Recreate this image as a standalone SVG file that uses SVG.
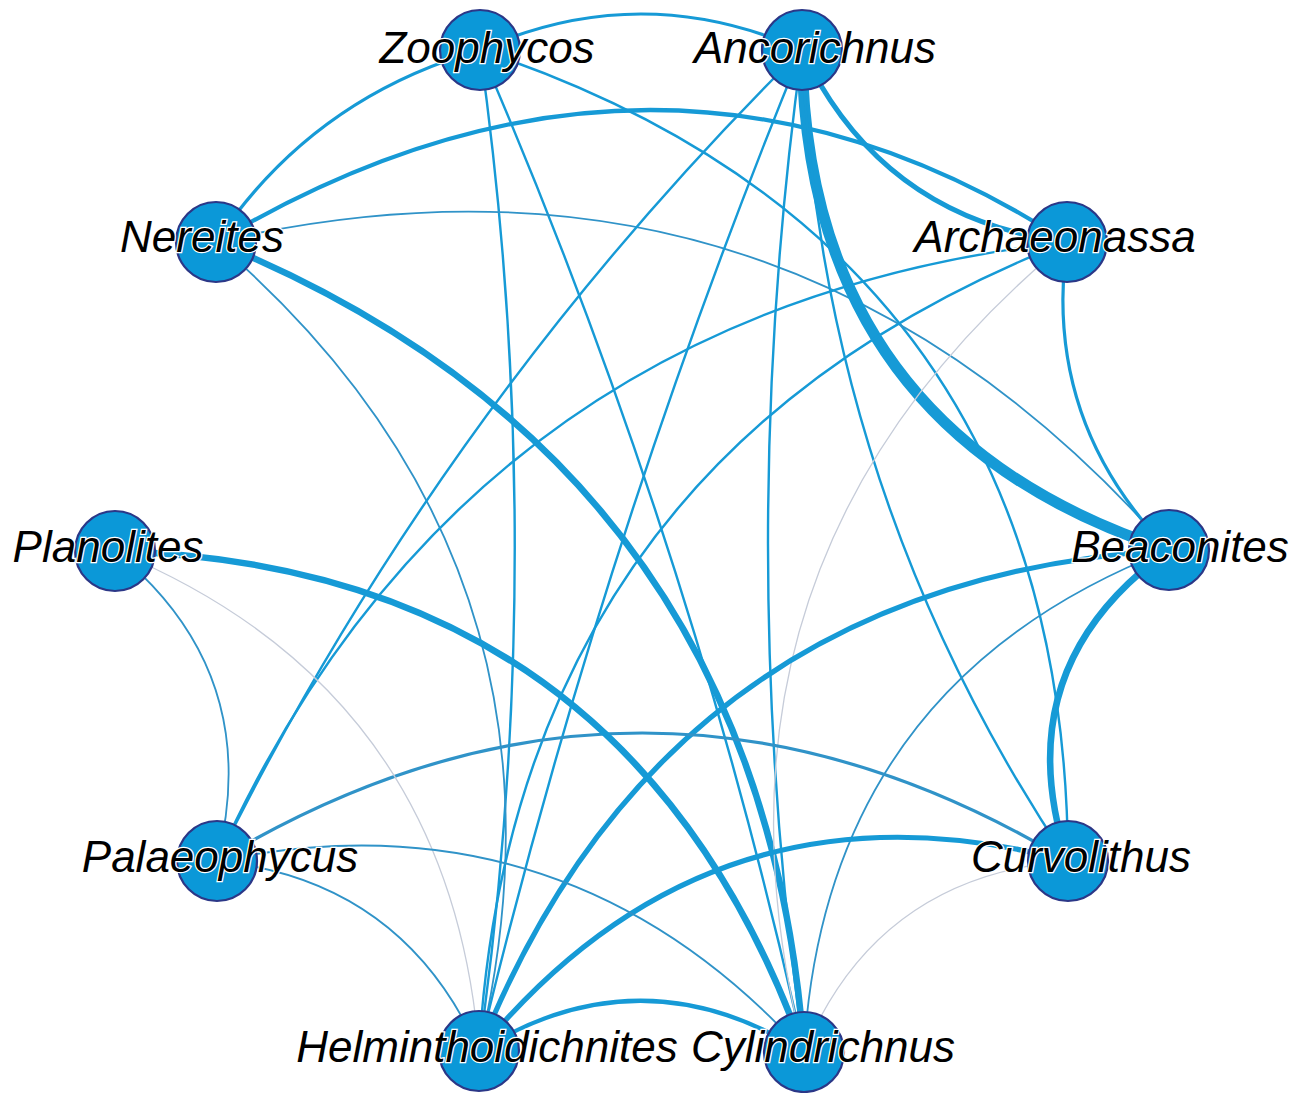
<svg xmlns="http://www.w3.org/2000/svg" width="1307" height="1093" viewBox="0 0 1307 1093">
  <style>
    .edge { fill: none; stroke: #169ad6; stroke-linecap: round; }
    .soft { stroke: #3093c8; }
    .faint { fill: none; stroke: #c6ccd9; stroke-width: 1.3; }
    .w1 { stroke-width: 1.8; }
    .w2 { stroke-width: 2.4; }
    .w3 { stroke-width: 3.2; }
    .w4 { stroke-width: 4.2; }
    .w5 { stroke-width: 5.2; }
    .w6 { stroke-width: 6.5; }
    .w7 { stroke-width: 11; }
    .node circle { fill: #0b98d8; stroke: #2b3787; stroke-width: 2.2; }
    .node text { font-family: "Liberation Sans", Arial, sans-serif; font-style: italic; font-size: 44px; fill: #000; stroke: #fff; stroke-width: 2.5; paint-order: stroke; text-anchor: middle; }
  </style>

  <g id="edges">
    <!-- Zoophycos -->
    <path class="edge w3" d="M480,50 Q641,-22 802,50"/>
    <path class="edge w3" d="M480,50 Q312,98 216,242"/>
    <path class="edge w2" d="M480,50 Q550,551 479,1051"/>
    <path class="edge w2" d="M480,50 Q690,535 804,1052"/>
    <path class="edge w2" d="M480,50 Q1065,244 1068,861"/>
    <!-- Nereites -->
    <path class="edge w4" d="M216,242 Q659,-22 1067,242"/>
    <path class="edge soft w1" d="M216,242 Q784,110 1169,550"/>
    <path class="edge w6" d="M216,242 Q762,465 804,1052"/>
    <path class="edge soft w1" d="M216,242 Q594,566 479,1051"/>
    <!-- Ancorichnus -->
    <path class="edge w7" d="M802,50 Q805,432 1169,550"/>
    <path class="edge w5" d="M802,50 Q882,219 1067,242"/>
    <path class="edge w2" d="M802,50 Q441,407 217,861"/>
    <path class="edge w2" d="M802,50 Q602,538 479,1051"/>
    <path class="edge w2" d="M802,50 Q733,551 804,1052"/>
    <path class="edge w2" d="M802,50 Q821,493 1068,861"/>
    <!-- Archaeonassa -->
    <path class="edge w3" d="M1067,242 Q1042,421 1169,550"/>
    <path class="edge w2" d="M1067,242 Q465,309 217,861"/>
    <path class="edge w2" d="M1067,242 Q514,458 479,1051"/>
    <path class="faint" d="M1067,242 Q679,563 804,1052"/>
    <!-- Beaconites -->
    <path class="edge w6" d="M1169,550 Q1004,668 1068,861"/>
    <path class="edge w5" d="M1169,550 Q665,582 479,1051"/>
    <path class="edge soft w1" d="M1169,550 Q825,683 804,1052"/>
    <!-- Curvolithus -->
    <path class="edge soft w3" d="M217,861 Q642,605 1068,861"/>
    <path class="edge w5" d="M1068,861 Q712,766 479,1051"/>
    <path class="faint" d="M1068,861 Q877,876 804,1052"/>
    <!-- Helminthoidichnites to Cylindrichnus -->
    <path class="edge w4" d="M479,1051 Q641,950 804,1052"/>
    <!-- Planolites -->
    <path class="edge w6" d="M115,551 Q630,566 804,1052"/>
    <path class="edge soft w1" d="M115,551 Q265,673 217,861"/>
    <path class="faint" d="M115,551 Q450,689 479,1051"/>
    <!-- Palaeophycus -->
    <path class="edge soft w1" d="M217,861 Q403,880 479,1051"/>
    <path class="edge soft w1" d="M217,861 Q565,789 804,1052"/>
  </g>

  <g id="node-zoophycos" class="node"><circle cx="480" cy="50" r="40"/><text x="487" y="63">Zoophycos</text></g>
  <g id="node-ancorichnus" class="node"><circle cx="802" cy="50" r="40"/><text x="815" y="63">Ancorichnus</text></g>
  <g id="node-nereites" class="node"><circle cx="216" cy="242" r="40"/><text x="202" y="252">Nereites</text></g>
  <g id="node-archaeonassa" class="node"><circle cx="1067" cy="242" r="40"/><text x="1055" y="252">Archaeonassa</text></g>
  <g id="node-planolites" class="node"><circle cx="115" cy="551" r="40"/><text x="108" y="562">Planolites</text></g>
  <g id="node-beaconites" class="node"><circle cx="1169" cy="550" r="40"/><text x="1180" y="562">Beaconites</text></g>
  <g id="node-palaeophycus" class="node"><circle cx="217" cy="861" r="40"/><text x="220" y="872">Palaeophycus</text></g>
  <g id="node-curvolithus" class="node"><circle cx="1068" cy="861" r="40"/><text x="1081" y="872">Curvolithus</text></g>
  <g id="node-helminthoidichnites" class="node"><circle cx="479" cy="1051" r="40"/><text x="487" y="1062">Helminthoidichnites</text></g>
  <g id="node-cylindrichnus" class="node"><circle cx="804" cy="1052" r="40"/><text x="823" y="1062">Cylindrichnus</text></g>
</svg>
